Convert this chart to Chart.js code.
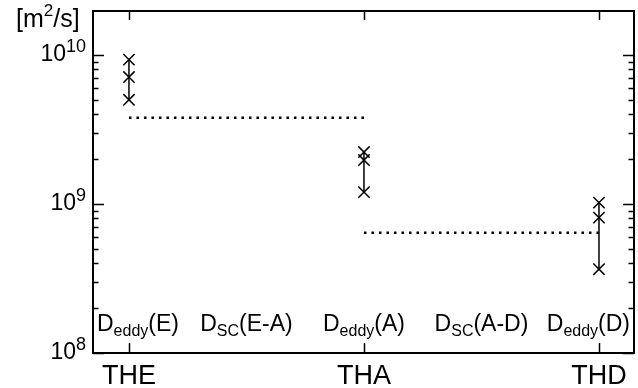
<!DOCTYPE html>
<html>
<head>
<meta charset="utf-8">
<script src="https://cdn.jsdelivr.net/npm/chart.js@4.4.0/dist/chart.umd.min.js"></script>
<style>
  html, body { margin: 0; padding: 0; background: #fff; }
</style>
</head>
<body>
<canvas id="diffChart" width="638" height="388"></canvas>
<script>
// stations along the x axis
const stations = ['THE', 'THA', 'THD'];
const stationPos = [0, 1, 2];

// eddy diffusivity estimates at each station [m^2/s]
const eddyE = [9.3e9, 7.1e9, 5.0e9];
const eddyA = [2.23e9, 1.97e9, 1.2e9];
const eddyD = [1.02e9, 8.1e8, 3.65e8];

// diffusivity between neighbouring stations
const scEA = 3.78e9;
const scAD = 6.4e8;

// y axis decades
const yDecades = [1e8, 1e9, 1e10];
const yExponents = ['8', '9', '10'];

// labels written inside the plot, near the bottom
const bandMain = ['D', 'D', 'D', 'D', 'D'];
const bandSub = ['eddy', 'SC', 'eddy', 'SC', 'eddy'];
const bandTail = ['(E)', '(E-A)', '(A)', '(A-D)', '(D)'];
const bandPos = [0, 0.5, 1, 1.5, 2];

const FONT = "'Liberation Sans', Arial, sans-serif";

function pts(x, ys) {
  return ys.map(y => ({ x: x, y: y }));
}

function crossSet(x, ys) {
  return {
    data: pts(x, ys),
    showLine: true,
    borderColor: '#000',
    borderWidth: 1.5,
    pointStyle: 'crossRot',
    pointRadius: 8,
    pointBorderWidth: 1.5,
    pointBorderColor: '#000'
  };
}

function dottedSet(x0, x1, y) {
  return {
    data: [{ x: x0, y: y }, { x: x1, y: y }],
    showLine: true,
    borderColor: '#000',
    borderWidth: 2.5,
    borderDash: [2.5, 5],
    pointRadius: 0
  };
}

// frame, ticks and all text are drawn here from the chart's own scales
const frameAndText = {
  id: 'frameAndText',
  afterDraw(chart) {
    const { ctx, chartArea: a, scales } = chart;
    const xs = scales.x, ys = scales.y;
    ctx.save();
    ctx.strokeStyle = '#000';
    ctx.fillStyle = '#000';

    // y ticks, major and minor, on both sides
    ctx.lineWidth = 1.5;
    for (let e = 8; e <= 10; e++) {
      for (let m = 1; m <= 9; m++) {
        const v = m * Math.pow(10, e);
        if (v > ys.max) break;
        const py = Math.round(ys.getPixelForValue(v)) + 0.5;
        const len = m === 1 ? 11 : 5.5;
        ctx.beginPath();
        ctx.moveTo(a.left, py); ctx.lineTo(a.left + len, py);
        ctx.moveTo(a.right, py); ctx.lineTo(a.right - len, py);
        ctx.stroke();
      }
    }
    // x ticks top and bottom
    stationPos.forEach(p => {
      const px = Math.round(xs.getPixelForValue(p)) + 0.5;
      ctx.beginPath();
      ctx.moveTo(px, a.bottom); ctx.lineTo(px, a.bottom - 10);
      ctx.moveTo(px, a.top); ctx.lineTo(px, a.top + 9);
      ctx.stroke();
    });

    // frame
    ctx.lineWidth = 2;
    ctx.strokeRect(a.left, a.top, a.right - a.left, a.bottom - a.top);

    // y tick labels 10^n
    ctx.textBaseline = 'alphabetic';
    yDecades.forEach((v, i) => {
      const py = ys.getPixelForValue(v);
      ctx.font = '18px ' + FONT;
      const supW = ctx.measureText(yExponents[i]).width;
      const right = a.left - 7;
      ctx.textAlign = 'right';
      ctx.fillText(yExponents[i], right, py - 3);
      ctx.font = '23px ' + FONT;
      ctx.fillText('10', right - supW, py + 6);
    });

    // unit label [m2/s]
    ctx.textAlign = 'left';
    let ux = 16;
    ctx.font = '25px ' + FONT;
    ctx.fillText('[m', ux, 27);
    ux += ctx.measureText('[m').width;
    ctx.font = '17px ' + FONT;
    ctx.fillText('2', ux, 16);
    ux += ctx.measureText('2').width;
    ctx.font = '25px ' + FONT;
    ctx.fillText('/s]', ux, 27);

    // station names
    ctx.textAlign = 'center';
    ctx.font = '27px ' + FONT;
    stations.forEach((s, i) => {
      ctx.fillText(s, xs.getPixelForValue(stationPos[i]), 384);
    });

    // band labels D_sub(...)
    ctx.textAlign = 'left';
    const base = 331;
    bandPos.forEach((p, i) => {
      ctx.font = '23px ' + FONT;
      const w1 = ctx.measureText(bandMain[i]).width;
      const w3 = ctx.measureText(bandTail[i]).width;
      ctx.font = '16px ' + FONT;
      const w2 = ctx.measureText(bandSub[i]).width;
      const w = w1 + w2 + w3;
      let x0 = xs.getPixelForValue(p) - w / 2;
      x0 = Math.max(a.left + 4, Math.min(a.right - 4 - w, x0));
      ctx.font = '23px ' + FONT;
      ctx.fillText(bandMain[i], x0, base);
      ctx.font = '16px ' + FONT;
      ctx.fillText(bandSub[i], x0 + w1, base + 5);
      ctx.font = '23px ' + FONT;
      ctx.fillText(bandTail[i], x0 + w1 + w2, base);
    });
    ctx.restore();
  }
};

new Chart(document.getElementById('diffChart').getContext('2d'), {
  type: 'scatter',
  data: {
    datasets: [
      dottedSet(stationPos[0], stationPos[1], scEA),
      dottedSet(stationPos[1], stationPos[2], scAD),
      crossSet(stationPos[0], eddyE),
      crossSet(stationPos[1], eddyA),
      crossSet(stationPos[2], eddyD)
    ]
  },
  options: {
    responsive: false,
    animation: false,
    devicePixelRatio: 1,
    layout: { autoPadding: false, padding: { left: 93, top: 11, right: 4, bottom: 35 } },
    scales: {
      x: { type: 'linear', min: -0.153, max: 2.149, display: false },
      y: { type: 'logarithmic', min: 1e8, max: 1.97e10, display: false }
    },
    plugins: {
      legend: { display: false },
      tooltip: { enabled: false }
    }
  },
  plugins: [frameAndText]
});
</script>
</body>
</html>
